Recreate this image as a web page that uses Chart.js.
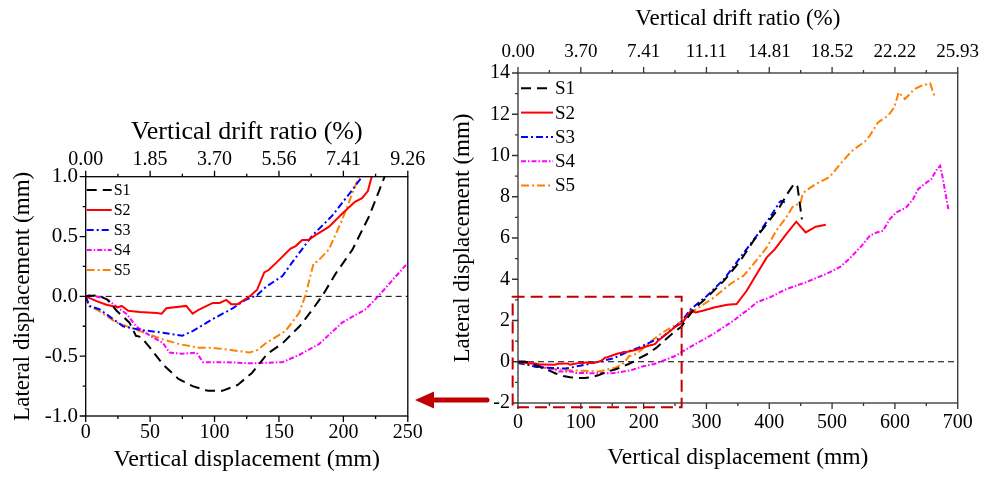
<!DOCTYPE html>
<html>
<head>
<meta charset="utf-8">
<script src="https://cdn.jsdelivr.net/npm/chart.js@4.4.1/dist/chart.umd.min.js"></script>
<style>
  html, body { margin: 0; padding: 0; background: #fff; }
  #wrap { position: relative; width: 989px; height: 477px; overflow: hidden; }
  #leftChart { position: absolute; left: 0; top: 0; }
  #rightChart { position: absolute; left: 400px; top: 0; }
</style>
</head>
<body>
<div id="wrap">
  <canvas id="leftChart" width="430" height="477"></canvas>
  <canvas id="rightChart" width="589" height="477"></canvas>
</div>
<script>
// Series: [vertical displacement (mm), lateral displacement (mm)]
const S1 = [[0,0],[10,0.01],[17,-0.03],[24,-0.12],[34,-0.22],[39,-0.33],[43,-0.34],[50,-0.43],[60,-0.57],[72,-0.69],[83,-0.75],[95,-0.79],[106,-0.79],[118,-0.74],[129,-0.64],[141,-0.48],[153,-0.39],[166,-0.25],[176,-0.11],[184,0.01],[194,0.19],[207,0.39],[220,0.67],[232,1.0],[245,1.35],[260,1.7],[281,2.6],[301,3.12],[328,3.93],[354,4.9],[375,5.87],[396,6.68],[416,7.48],[430,8.2],[440,8.65],[445,8.48],[452,6.9]];
const S2 = [[0,0],[8.5,-0.04],[16,-0.07],[25,-0.09],[28,-0.08],[33,-0.12],[42,-0.13],[55,-0.14],[59,-0.145],[62.6,-0.1],[78,-0.08],[83,-0.145],[88,-0.11],[98.6,-0.055],[104,-0.055],[109,-0.03],[113,-0.065],[118,-0.065],[123,-0.03],[128,0.005],[133,0.055],[138.6,0.2],[142,0.22],[148.8,0.29],[159,0.4],[163,0.42],[168,0.47],[173,0.47],[178,0.51],[188.7,0.58],[199,0.69],[209,0.79],[214.5,0.82],[219,0.88],[222,1.0],[233,1.26],[249,1.66],[262,1.9],[275,2.47],[283,2.39],[294,2.47],[312,2.63],[333,2.76],[348,2.8],[364,3.44],[380,4.25],[396,5.06],[409,5.46],[427,6.19],[443,6.79],[458,6.27],[474,6.55],[490,6.64]];
const S3 = [[0,0],[3,-0.08],[11,-0.11],[29,-0.25],[42,-0.28],[57,-0.3],[75,-0.33],[83,-0.29],[98.6,-0.19],[114,-0.1],[124,-0.03],[133,0.01],[140,0.08],[152.7,0.17],[160,0.28],[176,0.51],[191,0.67],[207,0.89],[214.5,1.0],[230,1.2],[260,1.95],[275,2.55],[301,3.2],[328,4.01],[354,5.06],[380,6.11],[401,7.0],[416,7.72],[419,7.8],[427,7.7]];
const S4 = [[0,0],[3,0.01],[16,-0.02],[32,-0.15],[39,-0.25],[50,-0.33],[60,-0.39],[65,-0.47],[75,-0.48],[86,-0.47],[91,-0.55],[109,-0.55],[129.5,-0.56],[152.7,-0.55],[165.6,-0.49],[181,-0.4],[199,-0.22],[217,-0.11],[227,0.0],[250,0.28],[273,0.69],[312,1.37],[343,1.99],[367,2.55],[380,2.88],[401,3.12],[427,3.52],[458,3.85],[490,4.25],[513,4.6],[527,4.98],[547,5.62],[560,6.11],[571,6.27],[581,6.35],[592,6.92],[602,7.24],[618,7.48],[629,7.89],[637,8.37],[645,8.57],[658,8.86],[667,9.34],[672,9.5],[676,8.94],[685,7.4]];
const S5 = [[0,0],[2,-0.08],[8.5,-0.11],[24,-0.22],[42,-0.29],[60,-0.36],[73,-0.4],[88,-0.43],[98.6,-0.43],[114,-0.45],[127,-0.47],[133,-0.45],[140,-0.39],[155,-0.29],[165.6,-0.14],[170.6,0.01],[177,0.28],[179.6,0.29],[188.7,0.39],[199,0.64],[212,1.0],[230,1.42],[249,1.75],[260,1.95],[280,2.47],[312,3.12],[338,3.77],[359,4.17],[375,4.74],[396,5.54],[411,6.35],[427,7.0],[437,7.5],[450,7.72],[453,8.13],[458,8.29],[474,8.62],[495,8.94],[500,9.1],[516,9.7],[532,10.23],[553,10.7],[560,10.96],[573,11.6],[589,11.93],[599,12.33],[606,13.06],[616,12.74],[631,13.22],[642,13.38],[656,13.5],[664,12.8]];

// Top-axis tick labels (vertical drift ratio, %)
const LEFT_DRIFT = ["0.00", "1.85", "3.70", "5.56", "7.41", "9.26"];
const RIGHT_DRIFT = ["0.00", "3.70", "7.41", "11.11", "14.81", "18.52", "22.22", "25.93"];

// Region of the right chart that the left chart enlarges
const ZOOM_BOX_X = [-8.5, 260.5];
const ZOOM_BOX_Y = [-2.2, 3.15];
const ZERO_LEVEL = 0;

const SERIES = [
  { label: "S1", data: S1, color: "#000000", dash: [10, 6] },
  { label: "S2", data: S2, color: "#ff0000", dash: [] },
  { label: "S3", data: S3, color: "#0000ff", dash: [7, 3, 2, 3] },
  { label: "S4", data: S4, color: "#ff00ff", dash: [5, 2, 1.5, 2] },
  { label: "S5", data: S5, color: "#ff8000", dash: [8, 3, 2, 3] },
];

Chart.defaults.font.family = "'Liberation Serif', 'Times New Roman', serif";
Chart.defaults.color = "#000";

// Frame, zero line, tick marks, legend and the zoom annotations
const decorPlugin = {
  id: "decor",
  beforeDatasetsDraw(chart, args, o) {
    const { ctx, chartArea: a, scales } = chart;
    const y0 = scales.y.getPixelForValue(ZERO_LEVEL);
    ctx.save();
    ctx.strokeStyle = "#000";
    ctx.lineWidth = 1;
    ctx.setLineDash([6, 4]);
    ctx.beginPath();
    ctx.moveTo(a.left, y0);
    ctx.lineTo(a.right, y0);
    ctx.stroke();
    ctx.restore();
  },
  afterDraw(chart, args, o) {
    const { ctx, chartArea: a, scales } = chart;
    const x = scales.x, y = scales.y;
    ctx.save();
    ctx.strokeStyle = o.axisColor;
    ctx.lineWidth = 1.3;
    ctx.strokeRect(a.left, a.top, a.right - a.left, a.bottom - a.top);

    // tick marks (major + minor), pointing outward
    ctx.beginPath();
    for (let v = x.min; v <= x.max + 1e-9; v += o.xMinor) {
      const px = x.getPixelForValue(v);
      const r = v / o.xMajor;
      const len = Math.abs(r - Math.round(r)) < 1e-6 ? 6 : 3;
      ctx.moveTo(px, a.bottom); ctx.lineTo(px, a.bottom + len);
      ctx.moveTo(px, a.top); ctx.lineTo(px, a.top - len);
    }
    for (let v = y.min; v <= y.max + 1e-9; v += o.yMinor) {
      const py = y.getPixelForValue(v);
      const r = v / o.yMajor;
      const len = Math.abs(r - Math.round(r)) < 1e-6 ? 6 : 3;
      ctx.moveTo(a.left, py); ctx.lineTo(a.left - len, py);
    }
    ctx.stroke();

    // legend
    ctx.font = o.legendSize + "px 'Liberation Serif', serif";
    ctx.textBaseline = "middle";
    ctx.textAlign = "left";
    SERIES.forEach((s, i) => {
      const ly = a.top + o.legendTop + i * o.legendStep;
      ctx.strokeStyle = s.color;
      ctx.lineWidth = 2;
      ctx.setLineDash(s.dash);
      ctx.beginPath();
      ctx.moveTo(a.left + o.legendX, ly);
      ctx.lineTo(a.left + o.legendX + o.legendLen, ly);
      ctx.stroke();
      ctx.fillStyle = "#000";
      ctx.fillText(s.label, a.left + o.legendX + o.legendLen + 2, ly + 1);
    });

    if (o.zoomBox) {
      const bx0 = x.getPixelForValue(ZOOM_BOX_X[0]);
      const bx1 = x.getPixelForValue(ZOOM_BOX_X[1]);
      const by0 = y.getPixelForValue(ZOOM_BOX_Y[1]);
      const by1 = y.getPixelForValue(ZOOM_BOX_Y[0]);
      ctx.strokeStyle = "#c00000";
      ctx.lineWidth = 2;
      ctx.setLineDash([12, 6]);
      ctx.strokeRect(bx0, by0, bx1 - bx0, by1 - by0);

      // arrow pointing to the enlarged chart
      const ay = y.getPixelForValue(-1.85);
      ctx.setLineDash([]);
      ctx.strokeStyle = "#c00000";
      ctx.fillStyle = "#c00000";
      ctx.lineWidth = 5;
      ctx.lineCap = "round";
      ctx.beginPath();
      ctx.moveTo(a.left - 31, ay);
      ctx.lineTo(a.left - 84, ay);
      ctx.stroke();
      ctx.beginPath();
      ctx.moveTo(a.left - 103, ay);
      ctx.lineTo(a.left - 84, ay - 8.5);
      ctx.lineTo(a.left - 84, ay + 8.5);
      ctx.closePath();
      ctx.fill();
    }
    ctx.restore();
  },
};

function makeChart(id, c) {
  return new Chart(document.getElementById(id), {
    type: "line",
    data: {
      datasets: SERIES.map((s) => ({
        label: s.label,
        data: s.data,
        borderColor: s.color,
        borderWidth: 2,
        borderDash: s.dash,
        pointRadius: 0,
        fill: false,
        tension: 0,
      })),
    },
    options: {
      responsive: false,
      animation: false,
      layout: { padding: { left: 0, top: 0, right: c.padRight, bottom: 0 } },
      plugins: {
        legend: { display: false },
        tooltip: { enabled: false },
        decor: c.decor,
      },
      scales: {
        x: {
          type: "linear", position: "bottom", min: c.xMin, max: c.xMax,
          grid: { display: false, drawTicks: false }, border: { display: false },
          ticks: { stepSize: c.xStep, autoSkip: false, maxRotation: 0, padding: c.xTickPad, font: { size: c.xTickSize } },
          title: { display: true, text: "Vertical displacement (mm)", font: { size: c.xTitleSize }, padding: { top: 0, bottom: c.xTitlePad } },
          afterFit: (s) => { s.height = c.bottomH; },
        },
        x2: {
          type: "linear", position: "top", min: c.xMin, max: c.xMax,
          grid: { display: false, drawTicks: false }, border: { display: false },
          ticks: { stepSize: c.xStep, autoSkip: false, maxRotation: 0, padding: c.topTickPad, font: { size: c.topTickSize },
            callback: (v, i) => c.drift[i] },
          title: { display: true, text: "Vertical drift ratio (%)", font: { size: c.driftTitleSize }, padding: { top: c.topTitlePad, bottom: 0 } },
          afterFit: (s) => { s.height = c.topH; },
        },
        y: {
          type: "linear", position: "left", min: c.yMin, max: c.yMax,
          grid: { display: false, drawTicks: false }, border: { display: false },
          ticks: { stepSize: c.yStep, autoSkip: false, padding: c.yTickPad, font: { size: c.yTickSize },
            callback: c.yFmt },
          title: { display: true, text: "Lateral displacement (mm)", font: { size: c.yTitleSize }, padding: { top: c.yTitlePad, bottom: 0 } },
          afterFit: (s) => { s.width = c.leftW; },
        },
      },
    },
    plugins: [decorPlugin],
  });
}

makeChart("leftChart", {
  xMin: 0, xMax: 250, xStep: 50, yMin: -1, yMax: 1, yStep: 0.5,
  drift: LEFT_DRIFT, yFmt: (v) => v.toFixed(1),
  xTickSize: 20, topTickSize: 20, yTickSize: 21,
  driftTitleSize: 26, xTitleSize: 24, yTitleSize: 23,
  leftW: 85.7, topH: 176.7, bottomH: 61, padRight: 20.7,
  xTickPad: 5, xTitlePad: 2.6, topTickPad: 4.7, topTitlePad: 116.1, yTickPad: 7.7, yTitlePad: 9.2,
  decor: { axisColor: "#000", xMajor: 50, xMinor: 25, yMajor: 0.5, yMinor: 0.25,
    legendX: 1, legendLen: 25, legendTop: 13.3, legendStep: 20, legendSize: 16, zoomBox: false },
});

makeChart("rightChart", {
  xMin: 0, xMax: 700, xStep: 100, yMin: -2, yMax: 14, yStep: 2,
  drift: RIGHT_DRIFT, yFmt: (v) => String(v),
  xTickSize: 20, topTickSize: 19, yTickSize: 20,
  driftTitleSize: 23, xTitleSize: 23.5, yTitleSize: 23,
  leftW: 118, topH: 73, bottomH: 74, padRight: 25,
  xTickPad: 8, xTitlePad: 4.9, topTickPad: 9.9, topTitlePad: 5.2, yTickPad: 8, yTitlePad: 49.2,
  decor: { axisColor: "#333", xMajor: 100, xMinor: 50, yMajor: 2, yMinor: 1,
    legendX: 3, legendLen: 32, legendTop: 15.3, legendStep: 24.3, legendSize: 19, zoomBox: true },
});
</script>
</body>
</html>
